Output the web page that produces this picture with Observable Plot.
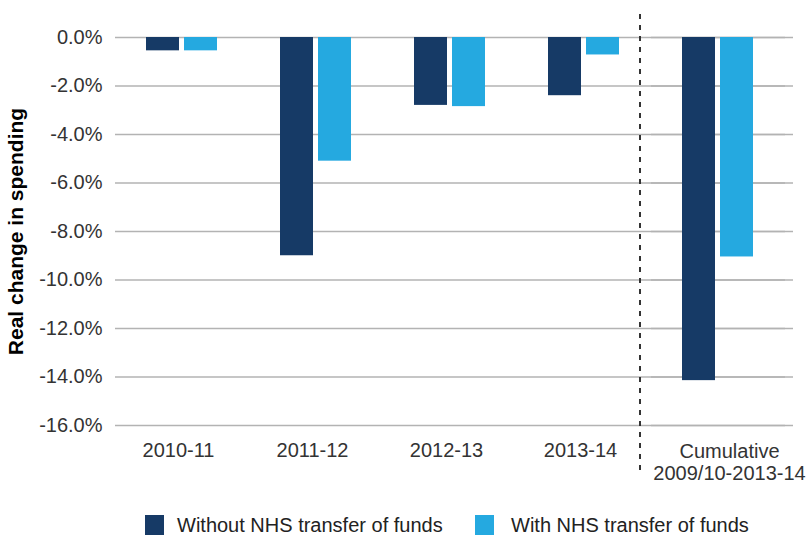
<!DOCTYPE html>
<html>
<head>
<meta charset="utf-8">
<script src="https://cdn.jsdelivr.net/npm/d3@7"></script>
<script src="https://cdn.jsdelivr.net/npm/@observablehq/plot@0.6"></script>
<style>
  html, body { margin: 0; padding: 0; background: #fff; }
  body { width: 812px; height: 535px; overflow: hidden; font-family: "Liberation Sans", Arial, sans-serif; }
  #chart svg [aria-label="y-axis label"] text { font-weight: bold; font-size: 21px; fill: #000; }
  .legend { position: relative; height: 35px; }
  .legend .sw { position: absolute; top: 15px; width: 19px; height: 20px; }
  .legend .lb { position: absolute; top: 15px; font-size: 20px; line-height: 20px; color: #222; white-space: nowrap; }
</style>
</head>
<body>
<div id="chart"></div>
<div class="legend" id="legend"></div>
<script>
// ---- data ----
const categories = ["2010-11", "2011-12", "2012-13", "2013-14", "Cumulative\n2009/10-2013-14"];
const seriesNames = ["Without NHS transfer of funds", "With NHS transfer of funds"];
const withoutNHS = [-0.55, -9.0, -2.8, -2.4, -14.15];
const withNHS = [-0.55, -5.1, -2.85, -0.72, -9.05];
const yTicks = [0, -2, -4, -6, -8, -10, -12, -14, -16];
const colors = ["#163a66", "#25a9e0"];

const rows = [];
categories.forEach((c, i) => {
  rows.push({category: c, series: seriesNames[0], value: withoutNHS[i]});
  rows.push({category: c, series: seriesNames[1], value: withNHS[i]});
});
const lastCat = categories[categories.length - 1];
const fmt = d => (d === 0 ? "0.0" : d.toFixed(1)) + "%";

const chart = Plot.plot({
  width: 812,
  height: 500,
  marginTop: 37,
  marginBottom: 75,
  marginLeft: 115,
  marginRight: 27,
  style: {fontFamily: "'Liberation Sans', Arial, sans-serif", fontSize: "20px", color: "#333", background: "#fff"},
  fx: {domain: categories, padding: 0, axis: null},
  x: {domain: seriesNames, paddingInner: 0.128, paddingOuter: 0.782, axis: null},
  y: {domain: [-16, 0], axis: null},
  color: {domain: seriesNames, range: colors},
  marks: [
    Plot.gridY({ticks: yTicks, stroke: "#b3b3b3", strokeOpacity: 1, strokeWidth: 1.5}),
    Plot.ruleY(yTicks, {y: d => d, fx: () => lastCat, insetRight: -8, stroke: "#b3b3b3", strokeWidth: 1.5}),
    Plot.barY(rows, {fx: "category", x: "series", y1: 0, y2: "value", fill: "series"}),
    Plot.ruleX([lastCat], {fx: d => d, x: () => seriesNames[0], dx: -59, insetTop: -23, insetBottom: -48,
      stroke: "#333", strokeWidth: 2, strokeDasharray: "5,6"}),
    Plot.axisY({ticks: yTicks, tickFormat: fmt, tickSize: 0, tickPadding: 13, fill: "#333",
      label: "Real change in spending", labelAnchor: "center", labelArrow: "none", labelOffset: 107}),
    Plot.axisFx({anchor: "bottom", ticks: categories.slice(0, 4), tickSize: 0, tickPadding: 17, dx: -4, fill: "#333", label: null}),
    Plot.axisFx({anchor: "bottom", ticks: [lastCat], tickSize: 0, tickPadding: 17, dx: 11, lineHeight: 1.1, fill: "#333", label: null})
  ]
});
document.getElementById("chart").appendChild(chart);

// legend
const legend = document.getElementById("legend");
const pos = [{sw: 145, lb: 177}, {sw: 475, lb: 511}];
seriesNames.forEach((s, i) => {
  const sw = document.createElement("div");
  sw.className = "sw"; sw.style.left = pos[i].sw + "px"; sw.style.background = colors[i];
  const lb = document.createElement("div");
  lb.className = "lb"; lb.style.left = pos[i].lb + "px"; lb.textContent = s;
  legend.appendChild(sw); legend.appendChild(lb);
});
</script>
</body>
</html>
